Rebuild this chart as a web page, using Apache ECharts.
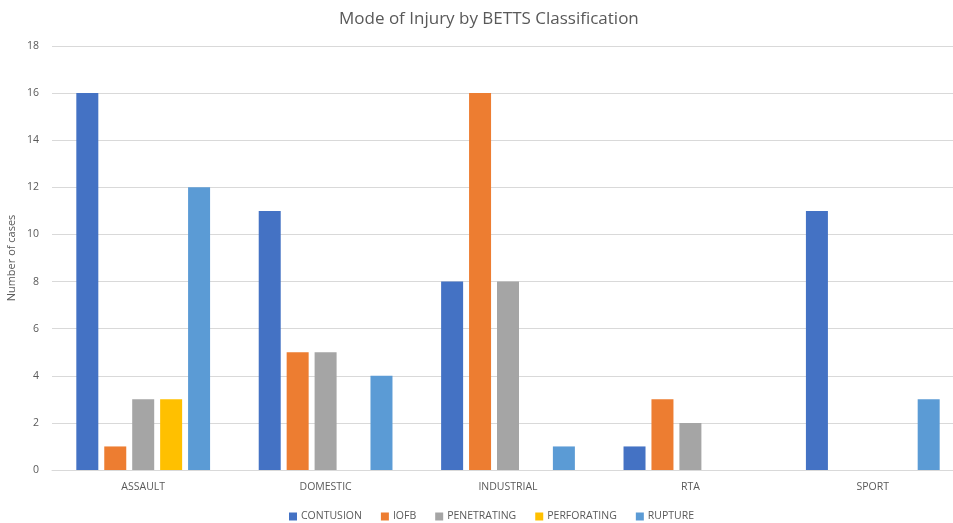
<!DOCTYPE html>
<html>
<head>
<meta charset="utf-8">
<script src="https://cdn.jsdelivr.net/npm/echarts@6/dist/echarts.min.js"></script>
<style>html,body{margin:0;padding:0;background:#fff}#c{width:953px;height:523px}</style>
</head>
<body>
<div id="c"></div>
<script>
const categories = ['ASSAULT', 'DOMESTIC', 'INDUSTRIAL', 'RTA', 'SPORT'];
const contusion = [16, 11, 8, 1, 11];
const iofb = [1, 5, 16, 3, 0];
const penetrating = [3, 5, 8, 2, 0];
const perforating = [3, 0, 0, 0, 0];
const rupture = [12, 4, 1, 0, 3];
const seriesNames = ['CONTUSION', 'IOFB', 'PENETRATING', 'PERFORATING', 'RUPTURE'];
const colors = ['#4472C4', '#ED7D31', '#A5A5A5', '#FFC000', '#5B9BD5'];
const allData = [contusion, iofb, penetrating, perforating, rupture];

const chart = echarts.init(document.getElementById('c'));
chart.setOption({
  animation: false,
  color: colors,
  title: {
    text: 'Mode of Injury by BETTS Classification',
    left: 334, top: 6,
    textStyle: { fontFamily: 'Open Sans', fontSize: 17, fontWeight: 'normal', color: '#595959' }
  },
  legend: {
    top: 506, left: 284,
    itemWidth: 8, itemHeight: 8, itemGap: 19,
    icon: 'rect',
    textStyle: { fontFamily: 'Open Sans', fontSize: 10.5, color: '#595959', padding: [0, 0, 0, -1] },
    data: seriesNames
  },
  grid: { left: 52, width: 912, top: 46, bottom: 53, outerBoundsMode: 'none', containLabel: false },
  xAxis: {
    type: 'category', data: categories,
    axisLine: { lineStyle: { color: '#D9D9D9' } },
    axisTick: { show: false },
    axisLabel: { fontFamily: 'Open Sans', fontSize: 10.5, color: '#595959', margin: 12 }
  },
  yAxis: {
    type: 'value', min: 0, max: 18, interval: 2,
    name: 'Number of cases', nameLocation: 'middle', nameGap: 35, nameMoveOverlap: false,
    nameTextStyle: { fontFamily: 'Open Sans', fontSize: 11, color: '#595959' },
    axisLine: { show: false }, axisTick: { show: false },
    axisLabel: { fontFamily: 'Open Sans', fontSize: 10.5, color: '#595959', margin: 13 },
    splitLine: { lineStyle: { color: '#D9D9D9' } }
  },
  series: seriesNames.map((n, i) => ({
    name: n, type: 'bar', data: allData[i],
    barWidth: 22, barGap: '27%'
  }))
});
</script>
</body>
</html>
